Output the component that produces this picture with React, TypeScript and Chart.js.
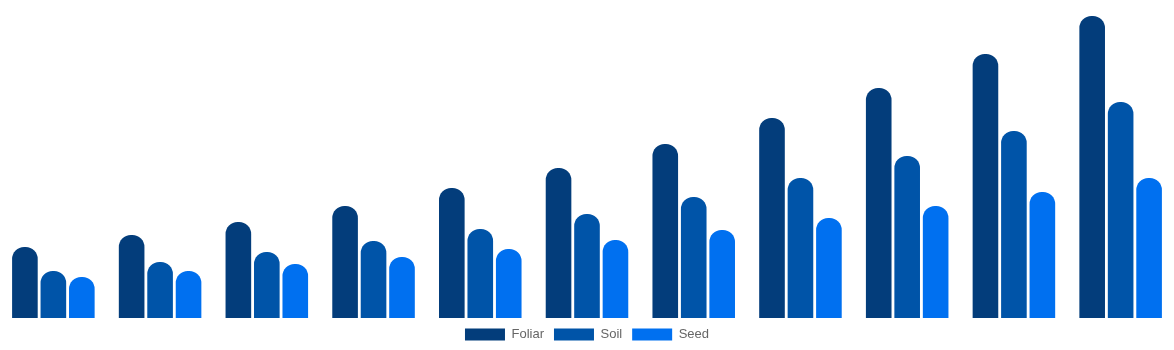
import React, { useEffect, useRef } from "react";
import { Chart, registerables } from "chart.js";

Chart.register(...registerables);

const categories = ["2020", "2021", "2022", "2023", "2024", "2025", "2026", "2027", "2028", "2029", "2030"];
const foliar = [7.1, 8.3, 9.6, 11.2, 13.0, 15.0, 17.4, 20.0, 23.0, 26.4, 30.2];
const soil = [4.7, 5.6, 6.6, 7.7, 8.9, 10.4, 12.1, 14.0, 16.2, 18.7, 21.6];
const seed = [4.1, 4.7, 5.4, 6.1, 6.9, 7.8, 8.8, 10.0, 11.2, 12.6, 14.0];
const seriesNames = ["Foliar", "Soil", "Seed"];
const yMax = 31.8;

export default function App() {
  const ref = useRef<HTMLCanvasElement | null>(null);
  useEffect(() => {
    if (!ref.current) return;
    const colors = ["#033d7b", "#0054a8", "#0070f0"];
    const chart = new Chart(ref.current, {
      type: "bar",
      data: {
        labels: categories,
        datasets: [foliar, soil, seed].map((d, i) => ({
          label: seriesNames[i],
          data: d,
          backgroundColor: colors[i],
          borderRadius: 12,
          borderSkipped: "bottom" as const,
        })),
      },
      options: {
        animation: false,
        responsive: true,
        maintainAspectRatio: false,
        layout: { padding: 0 },
        plugins: {
          legend: {
            position: "bottom",
            labels: {
              color: "#666",
              boxWidth: 40,
              boxHeight: 12,
              font: { size: 13, family: "'Liberation Sans', Arial, sans-serif" },
            },
          },
          tooltip: { enabled: false },
        },
        scales: {
          x: { display: false },
          y: { display: false, min: 0, max: yMax },
        },
      },
    });
    return () => chart.destroy();
  }, []);
  return (
    <div style={{ position: "fixed", left: 0, top: 0, width: 1174, height: 351, background: "#fff" }}>
      <canvas ref={ref} />
    </div>
  );
}
